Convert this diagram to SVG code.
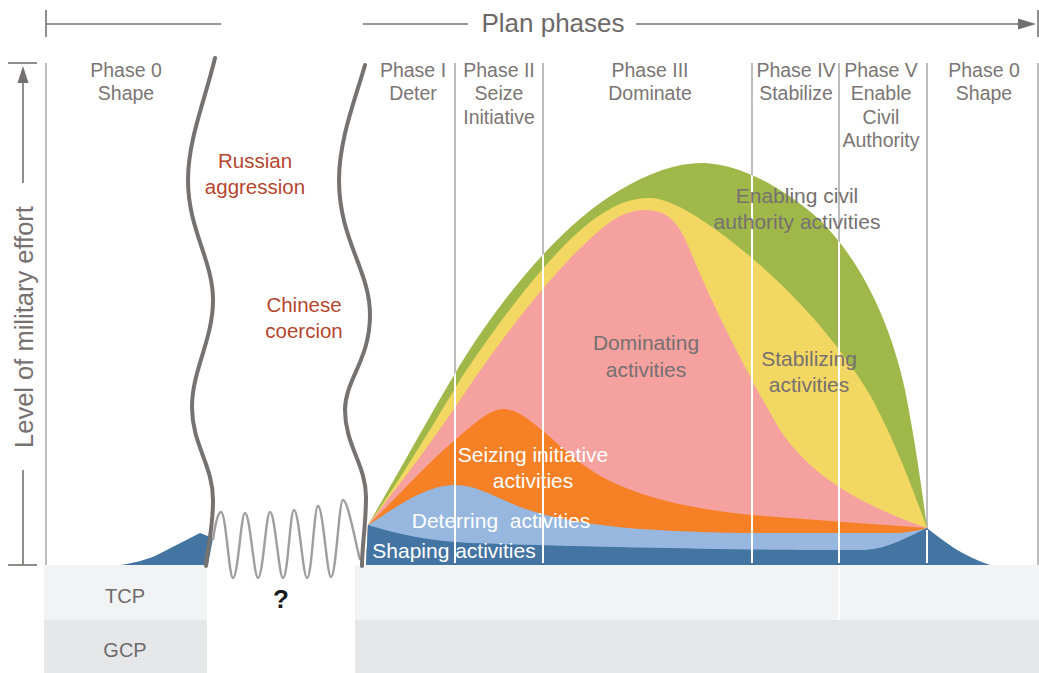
<svg xmlns="http://www.w3.org/2000/svg" width="1039" height="673" viewBox="0 0 1039 673">
<style>
 text { font-family: "Liberation Sans", Arial, sans-serif; }
 .ph { font-size: 19.5px; fill: #7b7575; text-anchor: middle; }
 .lbl { font-size: 21px; text-anchor: middle; }
 .g { fill: #767070; }
 .w { fill: #ffffff; }
 .red { fill: #b5452e; font-size: 20.5px; text-anchor: middle; }
 .band { font-size: 20px; fill: #6f6b6b; text-anchor: middle; }
 .sep { stroke: #9a9a9a; stroke-width: 1.3; }
 .sepw { stroke: #ffffff; stroke-width: 2; }
 .ax { stroke: #757070; stroke-width: 1.6; fill: none; }
 .brk { stroke: #767271; stroke-width: 4; fill: none; stroke-linecap: round; }
 .sine { stroke: #9e9e9e; stroke-width: 2.4; fill: none; }
</style>
<defs>
 <clipPath id="chartClip">
  <path d="M 366 565 L 368 525 C 400 470, 430 415, 460 365 C 500 300, 560 225, 620 190 C 650 172, 680 162, 705 163 C 740 165, 780 185, 820 220 C 860 260, 890 320, 905 390 C 915 440, 922 490, 927 528 L 927 565 Z"/>
 </clipPath>
</defs>
<rect width="1039" height="673" fill="#ffffff"/>

<g id="bands">
 <rect x="44" y="565" width="163" height="55" fill="#f2f3f4"/>
 <rect x="44" y="620" width="163" height="53" fill="#e6e7e8"/>
 <rect x="355" y="565" width="684" height="55" fill="#f2f3f4"/>
 <rect x="355" y="620" width="684" height="53" fill="#e6e7e8"/>
 <text class="band" x="125" y="603">TCP</text>
 <text class="band" x="125" y="657">GCP</text>
</g>

<g id="header">
 <line class="ax" x1="46" y1="10" x2="46" y2="37"/>
 <line class="ax" x1="46" y1="24" x2="221" y2="24"/>
 <line class="ax" x1="363" y1="24" x2="468" y2="24"/>
 <text x="553" y="32" font-size="26" fill="#6d6868" text-anchor="middle">Plan phases</text>
 <line class="ax" x1="636" y1="24" x2="1020" y2="24"/>
 <polygon points="1018,18.5 1036,24 1018,29.5" fill="#757070"/>
 <line class="ax" x1="1038" y1="10" x2="1038" y2="37"/>
</g>

<g id="axis">
 <line class="ax" x1="8" y1="63" x2="37" y2="63"/>
 <polygon points="23,66 17.5,83 28.5,83" fill="#757070"/>
 <line class="ax" x1="23" y1="80" x2="23" y2="183"/>
 <text transform="translate(33,327) rotate(-90)" font-size="25.5" fill="#767070" text-anchor="middle">Level of military effort</text>
 <line class="ax" x1="23" y1="470" x2="23" y2="565"/>
 <line class="ax" x1="8" y1="565" x2="37" y2="565"/>
</g>

<g id="separators">
 <line class="sep" x1="46" y1="63" x2="46" y2="565"/>
 <line class="sep" x1="455" y1="63" x2="455" y2="565"/>
 <line class="sep" x1="543" y1="63" x2="543" y2="565"/>
 <line class="sep" x1="752" y1="63" x2="752" y2="565"/>
 <line class="sep" x1="839" y1="63" x2="839" y2="565"/>
 <line class="sep" x1="927" y1="63" x2="927" y2="565"/>
 <line class="sep" x1="1038" y1="63" x2="1038" y2="565"/>
</g>

<g id="chart">
 <path id="enabling" fill="#a0b84a" d="M 366 565 L 368 525 C 400 470, 430 415, 460 365 C 500 300, 560 225, 620 190 C 650 172, 680 162, 705 163 C 740 165, 780 185, 820 220 C 860 260, 890 320, 905 390 C 915 440, 922 490, 927 528 L 927 565 Z"/>
 <path id="stabilizing" fill="#f2d862" d="M 366 565 L 368 525 C 400 480, 430 430, 460 380 C 500 320, 555 245, 600 215 C 615 205, 630 198, 650 198 C 675 198, 720 230, 760 265 C 800 300, 840 345, 870 395 C 895 440, 915 495, 927 528 L 927 565 Z"/>
 <path id="dominating" fill="#f5a19f" d="M 366 565 L 368 525 C 395 490, 430 445, 460 400 C 500 340, 560 260, 610 222 C 625 212, 640 208, 655 211 C 670 214, 680 225, 690 250 C 710 300, 745 370, 780 430 C 810 475, 860 505, 927 528 L 927 565 Z"/>
 <path id="seizing" fill="#f58025" d="M 366 565 L 368 525 C 390 505, 425 465, 455 440 C 475 423, 490 409, 503 409 C 520 409, 535 425, 550 437 C 570 455, 590 472, 610 481 C 640 495, 680 508, 752 515 C 800 519, 870 524, 927 528 L 927 565 Z"/>
 <path id="deterring" fill="#97b7df" d="M 366 565 L 368 525 C 390 512, 420 487, 452 485 C 475 484, 495 497, 520 507 C 550 518, 590 525, 640 529 C 690 532, 720 533, 760 533 L 900 533 C 910 532, 920 530, 927 528 L 927 565 Z"/>
 <path id="shaping" fill="#4374a2" d="M 366 565 L 368 525 C 400 535, 430 541, 470 543 C 560 546, 700 549, 800 550 L 865 550 C 890 548, 905 538, 927 528 C 942 540, 962 556, 990 565 Z"/>
 <path id="shaping-left" fill="#4374a2" d="M 120 565 C 135 563, 145 560, 155 556 L 200 533 L 213 538 L 208 565 Z"/>
</g>

<g id="separators-white">
 <g clip-path="url(#chartClip)">
  <line class="sepw" x1="455" y1="63" x2="455" y2="563"/>
  <line class="sepw" x1="543" y1="63" x2="543" y2="563"/>
  <line class="sepw" x1="752" y1="63" x2="752" y2="563"/>
  <line class="sepw" x1="839" y1="63" x2="839" y2="563"/>
 </g>
 <line class="sepw" x1="927" y1="530" x2="927" y2="563"/>
 <line class="sepw" x1="839" y1="565" x2="839" y2="620"/>
</g>

<g id="breaks">
 <path class="sine" d="M 213 540 C 215 525, 218 512, 221 512 C 226 512, 229 578, 233 578 C 238 578, 241 513, 245 513 C 250 513, 254 578, 258 578 C 263 578, 266 512, 270 512 C 275 512, 279 578, 283 578 C 288 578, 290 510, 294 510 C 299 510, 303 578, 307 578 C 312 578, 314 506, 318 506 C 323 506, 327 577, 331 577 C 336 577, 339 500, 343 500 C 348 500, 356 545, 360 560"/>
 <path class="brk" d="M 215 58 C 205 100, 188 140, 188 180 C 188 230, 213 260, 213 300 C 213 340, 192 370, 192 407 C 192 445, 213 465, 213 500 C 213 530, 207 550, 206 566"/>
 <path class="brk" d="M 365 65 C 355 100, 339 140, 339 180 C 339 240, 370 270, 370 315 C 370 360, 345 380, 345 410 C 345 445, 366 465, 366 497 C 366 525, 362 545, 362 566"/>
 <text x="281" y="608" font-size="26" font-weight="bold" fill="#1a1a1a" text-anchor="middle">?</text>
</g>

<g id="phase-labels">
 <text class="ph" x="126" y="77">Phase 0</text>
 <text class="ph" x="126" y="100">Shape</text>
 <text class="ph" x="413" y="77">Phase I</text>
 <text class="ph" x="413" y="100">Deter</text>
 <text class="ph" x="499" y="77">Phase II</text>
 <text class="ph" x="499" y="100">Seize</text>
 <text class="ph" x="499" y="124">Initiative</text>
 <text class="ph" x="650" y="77">Phase III</text>
 <text class="ph" x="650" y="100">Dominate</text>
 <text class="ph" x="796" y="77">Phase IV</text>
 <text class="ph" x="796" y="100">Stabilize</text>
 <text class="ph" x="881" y="77">Phase V</text>
 <text class="ph" x="881" y="100">Enable</text>
 <text class="ph" x="881" y="124">Civil</text>
 <text class="ph" x="881" y="147">Authority</text>
 <text class="ph" x="984" y="77">Phase 0</text>
 <text class="ph" x="984" y="100">Shape</text>
</g>

<g id="threat-labels">
 <text class="red" x="255" y="168">Russian</text>
 <text class="red" x="255" y="194">aggression</text>
 <text class="red" x="304" y="312">Chinese</text>
 <text class="red" x="304" y="338">coercion</text>
</g>

<g id="activity-labels">
 <text class="lbl g" x="797" y="203">Enabling civil</text>
 <text class="lbl g" x="797" y="229">authority activities</text>
 <text class="lbl g" x="646" y="350">Dominating</text>
 <text class="lbl g" x="646" y="377">activities</text>
 <text class="lbl g" x="809" y="366">Stabilizing</text>
 <text class="lbl g" x="809" y="392">activities</text>
 <text class="lbl w" x="533" y="462">Seizing initiative</text>
 <text class="lbl w" x="533" y="488">activities</text>
 <text class="lbl w" x="501" y="528" xml:space="preserve">Deterring  activities</text>
 <text class="lbl w" x="454" y="558">Shaping activities</text>
</g>
</svg>
